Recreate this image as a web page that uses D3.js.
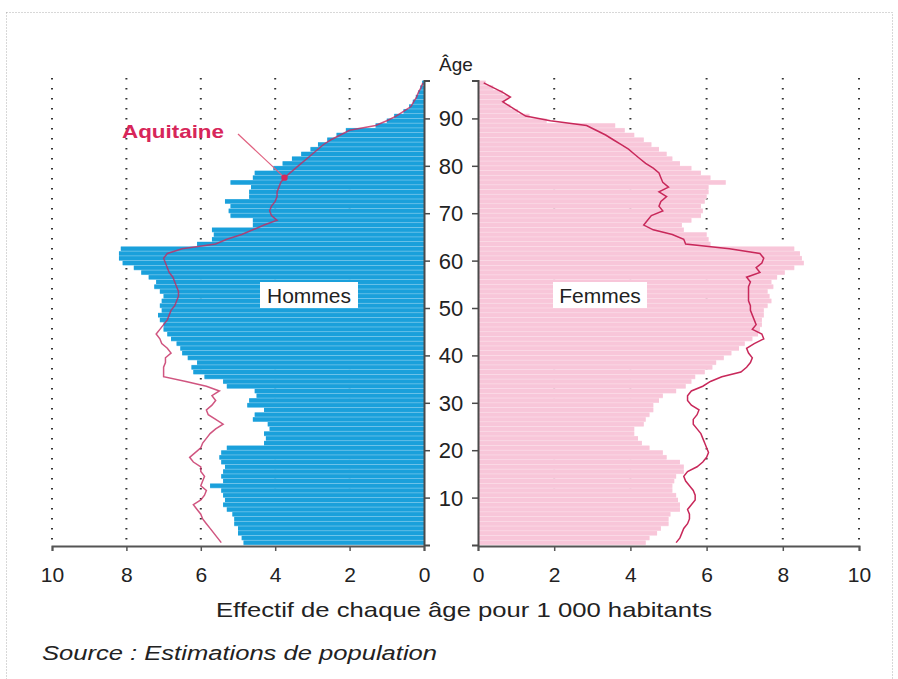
<!DOCTYPE html>
<html>
<head>
<meta charset="utf-8">
<script src="https://cdn.jsdelivr.net/npm/d3@7"></script>
<style>
  body { margin: 0; background: #fff; }
  svg text { font-family: "Liberation Sans", Arial, sans-serif; fill: #222; }
</style>
</head>
<body>
<svg id="chart" width="898" height="679"></svg>
<script>
// one value per year of age, 0 -> 97 (per 1 000 inhabitants)
const hommes = [
  4.85, 4.9, 5.0, 5.0, 5.1, 5.1, 5.15, 5.3, 5.4, 5.35,
  5.4, 5.45, 5.75, 5.4, 5.45, 5.4, 5.35, 5.45, 5.5, 5.45,
  5.3, 4.3, 4.25, 4.3, 4.15, 4.2, 4.6, 4.55, 4.3, 4.75,
  4.7, 4.5, 4.55, 5.3, 5.4, 5.9, 6.2, 6.25, 6.1, 6.35,
  6.5, 6.55, 6.65, 6.8, 6.9, 7.0, 7.0, 7.1, 7.15, 7.05,
  7.1, 7.05, 7.0, 7.1, 7.25, 7.2, 7.4, 7.6, 7.8, 8.1,
  8.2, 8.2, 8.15, 6.1, 5.7, 5.65, 5.7, 4.6, 4.6, 5.2,
  5.25, 5.2, 5.35, 4.7, 4.7, 4.65, 5.2, 4.6, 4.55, 4.05,
  3.8, 3.55, 3.3, 3.05, 2.85, 2.6, 2.35, 2.1, 1.3, 1.0,
  0.8, 0.55, 0.4, 0.3, 0.22, 0.15, 0.1, 0.05
];
const aquitaineHommes = [
  5.45, 5.55, 5.65, 5.75, 5.85, 5.95, 6.0, 6.1, 6.2, 6.0,
  5.9, 5.85, 6.0, 5.95, 5.9, 6.0, 6.0, 6.2, 6.3, 6.15,
  6.0, 5.95, 5.85, 5.75, 5.6, 5.4, 5.6, 5.8, 5.85, 5.7,
  5.6, 5.7, 5.5, 5.85, 6.4, 7.0, 7.0, 7.0, 6.95, 6.95,
  6.8, 6.9, 7.05, 7.1, 7.2, 7.1, 7.0, 6.9, 6.85, 6.8,
  6.7, 6.65, 6.6, 6.6, 6.65, 6.7, 6.75, 6.85, 6.9, 6.95,
  7.0, 6.9, 6.5, 5.6, 5.3, 4.9, 4.6, 4.3, 3.95, 4.1,
  4.15, 4.1, 4.0, 3.95, 3.95, 3.9, 3.85, 3.75, 3.6, 3.45,
  3.3, 3.15, 3.0, 2.85, 2.7, 2.5, 2.25, 2.0, 1.3, 1.0,
  0.75, 0.55, 0.35, 0.28, 0.2, 0.15, 0.08, 0.03
];
const femmes = [
  4.4, 4.5, 4.7, 4.8, 5.0, 5.0, 5.05, 5.3, 5.3, 5.25,
  5.2, 5.1, 5.1, 5.15, 5.2, 5.4, 5.4, 5.3, 4.95, 4.85,
  4.5, 4.3, 4.2, 4.1, 4.1, 4.35, 4.4, 4.5, 4.6, 4.6,
  4.75, 4.85, 5.2, 5.45, 5.6, 5.7, 5.95, 6.15, 6.25, 6.45,
  6.65, 6.85, 7.0, 7.2, 7.35, 7.4, 7.45, 7.45, 7.5, 7.5,
  7.6, 7.7, 7.65, 7.6, 7.75, 7.7, 7.85, 8.05, 8.3, 8.55,
  8.5, 8.45, 8.3, 6.1, 6.05, 6.0, 5.4, 5.35, 5.6, 5.85,
  5.9, 5.85, 5.95, 6.0, 6.05, 6.05, 6.5, 6.1, 5.85, 5.6,
  5.3, 5.1, 4.95, 4.75, 4.55, 4.35, 4.1, 3.85, 3.6, 1.8,
  1.35, 1.05, 0.85, 0.7, 0.8, 0.65, 0.4, 0.2
];
const aquitaineFemmes = [
  5.2, 5.3, 5.35, 5.4, 5.5, 5.55, 5.55, 5.5, 5.6, 5.7,
  5.7, 5.65, 5.55, 5.45, 5.4, 5.5, 5.75, 5.9, 6.0, 6.05,
  6.0, 5.95, 5.9, 5.85, 5.75, 5.65, 5.65, 5.75, 5.8, 5.6,
  5.5, 5.5, 5.6, 5.9, 6.1, 6.4, 6.9, 7.05, 7.15, 7.2,
  7.1, 7.05, 7.25, 7.5, 7.45, 7.2, 7.3, 7.25, 7.2, 7.15,
  7.15, 7.1, 7.1, 7.1, 7.1, 7.15, 7.05, 7.4, 7.3, 7.45,
  7.5, 7.4, 6.6, 5.45, 5.4, 5.1, 4.6, 4.35, 4.45, 4.55,
  4.85, 4.75, 4.8, 4.95, 4.75, 5.0, 4.85, 4.8, 4.75, 4.6,
  4.4, 4.25, 4.1, 3.95, 3.75, 3.55, 3.35, 3.1, 2.85, 1.9,
  1.25, 1.05, 0.85, 0.65, 0.85, 0.65, 0.4, 0.15
];
const ageTicks = [10, 20, 30, 40, 50, 60, 70, 80, 90];
const valueTicks = [0, 2, 4, 6, 8, 10];
const gridTicks = [2, 4, 6, 8, 10];

const svg = d3.select("#chart");

// outer dotted frame
svg.append("rect")
  .attr("x", 6.5).attr("y", 12.5)
  .attr("width", 886).attr("height", 700)
  .attr("fill", "none")
  .attr("stroke", "#b0b0b0")
  .attr("stroke-dasharray", "1,2");

const yAge = d3.scaleLinear().domain([0, 98]).range([545, 80.5]);
const xLeft = d3.scaleLinear().domain([0, 10]).range([424, 52]);
const xRight = d3.scaleLinear().domain([0, 10]).range([478, 859]);

// dotted grid lines (behind the bars)
const grid = svg.append("g");
[xLeft, xRight].forEach(x => {
  grid.selectAll(null)
    .data(gridTicks)
    .join("line")
    .attr("x1", d => x(d)).attr("x2", d => x(d))
    .attr("y1", 78).attr("y2", 545)
    .attr("stroke", "#333")
    .attr("stroke-width", 2)
    .attr("stroke-dasharray", "1.6,8.4");
});

const ages = d3.range(hommes.length);
const bandY = a => yAge(a + 1);
const bandH = a => yAge(a) - yAge(a + 1);

// bars: a pale full-height layer gives the thin light stripes between ages
function drawBars(values, x, dir, pale, color) {
  const g = svg.append("g");
  const xa = a => dir < 0 ? x(values[a]) : x(0);
  const w = a => Math.abs(x(values[a]) - x(0));
  g.selectAll(".pale")
    .data(ages)
    .join("rect")
    .attr("class", "pale")
    .attr("x", xa).attr("y", bandY)
    .attr("width", w).attr("height", a => bandH(a) + 0.2)
    .attr("fill", pale);
  g.selectAll(".bar")
    .data(ages)
    .join("rect")
    .attr("class", "bar")
    .attr("x", xa).attr("y", a => bandY(a) + 0.35)
    .attr("width", w).attr("height", a => bandH(a) - 0.7)
    .attr("fill", color);
}
drawBars(hommes, xLeft, -1, "#7cc9ec", "#1aa0db");
drawBars(femmes, xRight, 1, "#fbdde8", "#f8c6d9");

// Aquitaine profiles
const lineLeft = d3.line().x(d => xLeft(d[1])).y(d => yAge(d[0] + 0.5));
const lineRight = d3.line().x(d => xRight(d[1])).y(d => yAge(d[0] + 0.5));

svg.append("path")
  .datum(ages.map(a => [a, aquitaineHommes[a]]))
  .attr("d", lineLeft)
  .attr("fill", "none")
  .attr("stroke", "#c42a60")
  .attr("stroke-opacity", 0.8)
  .attr("stroke-width", 1.5);

svg.append("path")
  .datum(ages.map(a => [a, aquitaineFemmes[a]]))
  .attr("d", lineRight)
  .attr("fill", "none")
  .attr("stroke", "#c8285a")
  .attr("stroke-width", 1.5);

// bottom axes
const bottomY = 546;
[xLeft, xRight].forEach(x => {
  const g = svg.append("g")
    .attr("transform", `translate(0,${bottomY})`)
    .call(d3.axisBottom(x).tickValues(valueTicks).tickSize(5).tickPadding(16).tickFormat(d3.format("d")));
  g.select(".domain").attr("stroke", "#555").attr("stroke-width", 2);
  g.selectAll(".tick line").attr("stroke", "#555").attr("stroke-width", 1.5);
  g.selectAll(".tick text")
    .style("font-size", "21px")
    .style("font-family", "'Liberation Sans', Arial, sans-serif")
    .attr("fill", "#222");
});

// vertical age axes
const leftAxis = svg.append("g")
  .attr("transform", `translate(${xLeft(0)},0)`)
  .call(d3.axisRight(yAge).tickValues(ageTicks).tickSize(6).tickFormat(""));
const rightAxis = svg.append("g")
  .attr("transform", `translate(${xRight(0)},0)`)
  .call(d3.axisLeft(yAge).tickValues(ageTicks).tickSize(6).tickFormat(""));
[leftAxis, rightAxis].forEach(g => {
  g.select(".domain").attr("stroke", "#4a4a4a").attr("stroke-width", 2);
  g.selectAll(".tick line").attr("stroke", "#4a4a4a").attr("stroke-width", 1.5);
});

// age labels in the middle
svg.append("g").selectAll("text")
  .data(ageTicks)
  .join("text")
  .attr("x", (xLeft(0) + xRight(0)) / 2)
  .attr("y", d => yAge(d))
  .attr("dy", "0.36em")
  .attr("text-anchor", "middle")
  .style("font-size", "22px")
  .text(d => d);

svg.append("text")
  .attr("x", 456).attr("y", 71)
  .attr("text-anchor", "middle")
  .style("font-size", "19px")
  .text("Âge");

// panel labels
function boxLabel(x, y, w, label) {
  svg.append("rect")
    .attr("x", x - w / 2).attr("y", y - 13)
    .attr("width", w).attr("height", 26)
    .attr("fill", "#fff");
  svg.append("text")
    .attr("x", x).attr("y", y)
    .attr("dy", "0.36em")
    .attr("text-anchor", "middle")
    .style("font-size", "21px")
    .text(label);
}
boxLabel(309, 295, 98, "Hommes");
boxLabel(600, 295, 94, "Femmes");

// Aquitaine annotation
svg.append("line")
  .attr("x1", 238).attr("y1", 134)
  .attr("x2", xLeft(aquitaineHommes[77])).attr("y2", yAge(77.5))
  .attr("stroke", "#e0607f")
  .attr("stroke-width", 1.2);
svg.append("circle")
  .attr("cx", xLeft(aquitaineHommes[77])).attr("cy", yAge(77.5))
  .attr("r", 3.2)
  .attr("fill", "#d42a5c");
svg.append("text")
  .attr("x", 122).attr("y", 138)
  .attr("textLength", 102)
  .attr("lengthAdjust", "spacingAndGlyphs")
  .style("font-size", "19px")
  .style("font-weight", "bold")
  .style("fill", "#d7265a")
  .text("Aquitaine");

// axis title and source
svg.append("text")
  .attr("x", 216).attr("y", 617)
  .attr("textLength", 496)
  .attr("lengthAdjust", "spacingAndGlyphs")
  .style("font-size", "21px")
  .text("Effectif de chaque âge pour 1 000 habitants");

svg.append("text")
  .attr("x", 42).attr("y", 660)
  .attr("textLength", 395)
  .attr("lengthAdjust", "spacingAndGlyphs")
  .style("font-size", "20px")
  .style("font-style", "italic")
  .text("Source : Estimations de population");
</script>
</body>
</html>
